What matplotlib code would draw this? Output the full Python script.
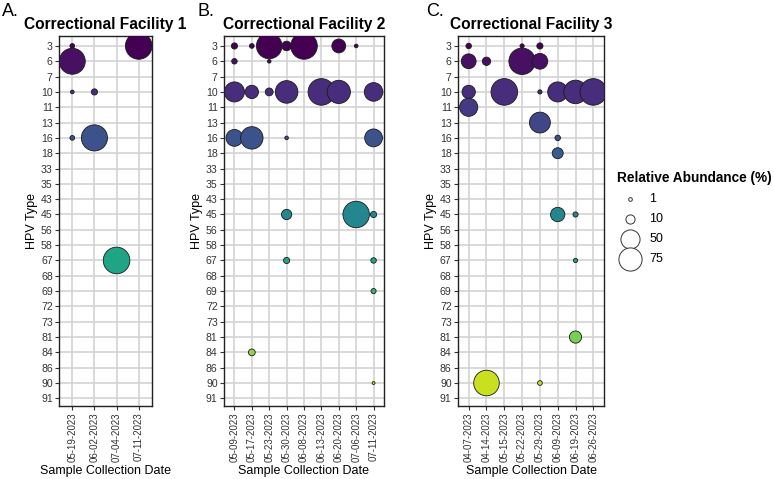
import matplotlib
matplotlib.use('Agg')
import matplotlib.pyplot as plt
import numpy as np

plt.rcParams['font.family'] = ['Liberation Sans', 'DejaVu Sans']

# HPV types on the y axis (top to bottom)
hpv_types = [3, 6, 7, 10, 11, 13, 16, 18, 33, 35, 43, 45, 56, 58,
             67, 68, 69, 72, 73, 81, 84, 86, 90, 91]

# Facility 1
a_dates = ['05-19-2023', '06-02-2023', '07-04-2023', '07-11-2023']
a_date = ['05-19-2023', '05-19-2023', '05-19-2023', '05-19-2023',
          '06-02-2023', '06-02-2023', '07-04-2023', '07-11-2023']
a_type = [3, 6, 10, 16, 10, 16, 67, 3]
a_abund = [2, 95, 1, 2, 4, 96, 100, 100]

# Facility 2
b_dates = ['05-09-2023', '05-17-2023', '05-23-2023', '05-30-2023', '06-08-2023',
           '06-13-2023', '06-20-2023', '07-06-2023', '07-11-2023']
b_date = ['05-09-2023'] * 4 + ['05-17-2023'] * 4 + ['05-23-2023'] * 3 + \
         ['05-30-2023'] * 5 + ['06-08-2023', '06-13-2023'] + ['06-20-2023'] * 2 + \
         ['07-06-2023'] * 2 + ['07-11-2023'] * 6
b_type = [3, 6, 10, 16,
          3, 10, 16, 84,
          3, 6, 10,
          3, 10, 16, 45, 67,
          3, 10,
          3, 10,
          3, 45,
          10, 16, 45, 67, 69, 90]
b_abund = [4, 3, 55, 38,
           2, 23, 70, 5,
           92, 1, 7,
           11, 71, 1, 13, 4,
           100, 100,
           25, 75,
           1, 99,
           47, 43, 4, 3, 2.5, 0.5]

# Facility 3
c_dates = ['04-07-2023', '04-14-2023', '05-15-2023', '05-22-2023',
           '05-29-2023', '06-09-2023', '06-19-2023', '06-26-2023']
c_date = ['04-07-2023'] * 4 + ['04-14-2023'] * 2 + ['05-15-2023'] + \
         ['05-22-2023'] * 2 + ['05-29-2023'] * 5 + ['06-09-2023'] * 4 + \
         ['06-19-2023'] * 4 + ['06-26-2023']
c_type = [3, 6, 10, 11,
          6, 90,
          10,
          3, 6,
          3, 6, 10, 13, 90,
          10, 16, 18, 45,
          10, 45, 67, 81,
          10]
c_abund = [3, 29, 23, 45,
           8, 92,
           100,
           1.5, 98.5,
           4, 33, 1.5, 60, 2,
           55, 3, 15, 27,
           77, 2.5, 1.5, 19,
           100]

legend_vals = [1, 10, 50, 75]

W, H = 774, 479
cmap = plt.get_cmap('viridis')


def dot_size(v):
    d_px = 1.1 + 2.55 * np.sqrt(np.asarray(v, dtype=float))
    return (d_px * 0.72) ** 2


def box(l, r, t=36, b=406):
    return [l / W, 1 - b / H, (r - l) / W, (b - t) / H]


fig = plt.figure(figsize=(W / 100, H / 100), dpi=100)

panels = [
    (a_dates, a_date, a_type, a_abund, 'Correctional Facility 1', 'A.', (59, 152), 2),
    (b_dates, b_date, b_type, b_abund, 'Correctional Facility 2', 'B.', (224, 384), 197),
    (c_dates, c_date, c_type, c_abund, 'Correctional Facility 3', 'C.', (458, 604), 426),
]

for dates, date, typ, abund, title, letter, (l, r), lx in panels:
    ax = fig.add_axes(box(l, r))
    x = [dates.index(d) for d in date]
    y = [hpv_types.index(t) for t in typ]
    colors = cmap(np.array(y) / 24)
    ax.scatter(x, y, s=dot_size(abund), c=colors, edgecolors='#1a1a1a',
               linewidths=0.6, zorder=3)
    ax.set_xticks(range(len(dates)))
    ax.set_xticklabels(dates, rotation=90)
    ax.set_yticks(range(len(hpv_types)))
    ax.set_yticklabels(hpv_types)
    ax.set_xlim(-0.6, len(dates) - 0.4)
    ax.set_ylim(len(hpv_types) - 0.5, -0.65)
    ax.grid(True, color='#d3d3d3', lw=1.2)
    ax.set_axisbelow(True)
    for sp in ax.spines.values():
        sp.set_color('#222222')
        sp.set_linewidth(1.0)
    ax.tick_params(length=3, width=0.8, labelsize=7.0, pad=1.5,
                   color='#333333', labelcolor='#333333')
    ax.tick_params(axis='y', labelsize=7.6)
    ax.set_ylabel('HPV Type', fontsize=9, labelpad=2)
    ax.set_xlabel('Sample Collection Date', fontsize=9)
    ax.xaxis.set_label_coords(0.5, -(465 - 406) / 370)
    ax.set_title(title, fontsize=11.2, fontweight='bold', pad=5)
    fig.text(lx / W, 1 - 3 / H, letter, fontsize=13, va='top', ha='left')

handles = [ax.scatter([], [], s=dot_size(v), facecolor='white',
                      edgecolor='#333333', linewidths=0.7) for v in legend_vals]
fig.legend(handles, [str(v) for v in legend_vals], title='Relative Abundance (%)',
           loc='upper left', bbox_to_anchor=(617 / W, 1 - 171 / H), frameon=False,
           fontsize=9, title_fontproperties={'weight': 'bold', 'size': 9.8},
           alignment='left', labelspacing=0.65, handletextpad=0.6,
           borderaxespad=0, borderpad=0)

fig.savefig('out.png', dpi=100)
